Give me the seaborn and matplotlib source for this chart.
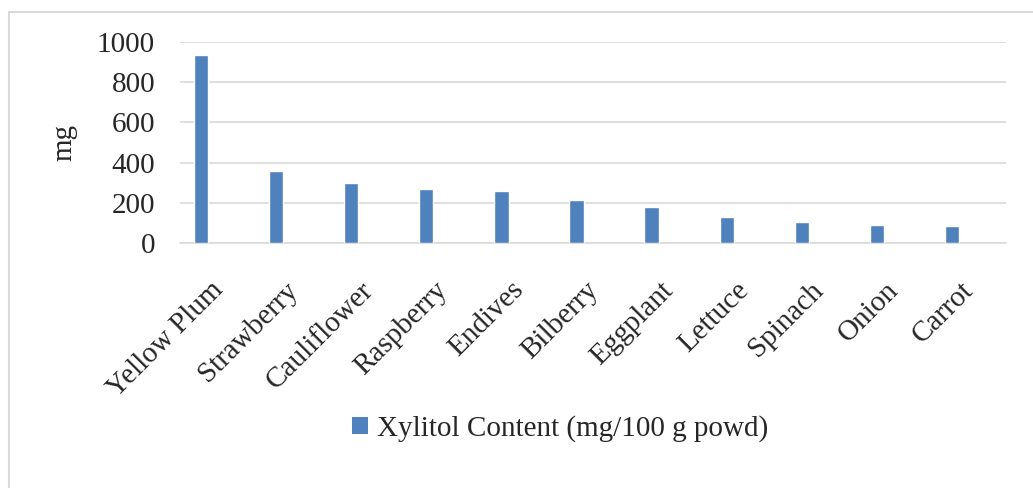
import matplotlib
matplotlib.use("Agg")
import matplotlib.pyplot as plt
import matplotlib.transforms as mtransforms
from matplotlib.patches import Rectangle, Patch
import seaborn as sns
import pandas as pd
import numpy as np

# 数据
foods = ['Yellow Plum', 'Strawberry', 'Cauliflower', 'Raspberry', 'Endives',
         'Bilberry', 'Eggplant', 'Lettuce', 'Spinach', 'Onion', 'Carrot']
xylitol = [934, 360, 300, 268, 258, 215, 180, 130, 107, 91, 86]
series_name = 'Xylitol Content (mg/100 g powd)'
y_ticks = [0, 200, 400, 600, 800, 1000]

bar_color = '#4f81bd'
grid_color = '#d9d9d9'
fs = 21

sns.set_theme(style='white')
plt.rcParams['font.family'] = ['Liberation Serif', 'DejaVu Serif']

fig = plt.figure(figsize=(10.33, 4.88), dpi=100)
ax = fig.add_axes([0.1743, 0.5014, 0.7996, 0.4132])

df = pd.DataFrame({'food': foods, 'value': xylitol})
sns.barplot(data=df, x='food', y='value', color=bar_color, width=0.19,
            saturation=1, ax=ax, zorder=3)
# Excel 风格: 柱子在分类内偏左
for p in ax.patches:
    p.set_x(p.get_x() - 0.22)

ax.set_ylim(0, 1000)
ax.set_xlim(-0.5, len(foods) - 0.5)
ax.set_yticks(y_ticks)
ax.yaxis.grid(True, color=grid_color, linewidth=1.2, zorder=0)
ax.set_axisbelow(True)
ax.tick_params(axis='y', length=0, labelsize=fs, pad=18)
ax.set_ylabel('mg', fontsize=fs, labelpad=14)
ax.set_xlabel('')

for s in ['top', 'right', 'left']:
    ax.spines[s].set_visible(False)
ax.spines['bottom'].set_color(grid_color)
ax.spines['bottom'].set_linewidth(1.2)

# 分类边界刻度
ax.set_xticks(np.arange(-0.5, len(foods)), minor=True)
ax.tick_params(axis='x', which='minor', length=8, color=grid_color, width=1.2,
               direction='out')
ax.tick_params(axis='x', which='major', length=0, labelsize=fs, pad=4)
offset = mtransforms.ScaledTranslation(-8 / 100, -28 / 100, fig.dpi_scale_trans)
for lab in ax.get_xticklabels():
    lab.set_rotation(45)
    lab.set_ha('right')
    lab.set_va('top')
    lab.set_rotation_mode('anchor')
    lab.set_transform(lab.get_transform() + offset)

# 图例
handle = Patch(facecolor=bar_color, edgecolor='none')
fig.legend([handle], [series_name], loc='center', bbox_to_anchor=(0.542, 0.122),
           frameon=False, fontsize=fs, handlelength=0.55, handleheight=0.55,
           handletextpad=0.3)

# 外框
fig.patches.append(Rectangle((9 / 1033, -0.1), 1.2, 1 - 12 / 488 + 0.1,
                             transform=fig.transFigure, fill=False,
                             edgecolor=grid_color, linewidth=1.5))

fig.savefig('out.png', dpi=100)
